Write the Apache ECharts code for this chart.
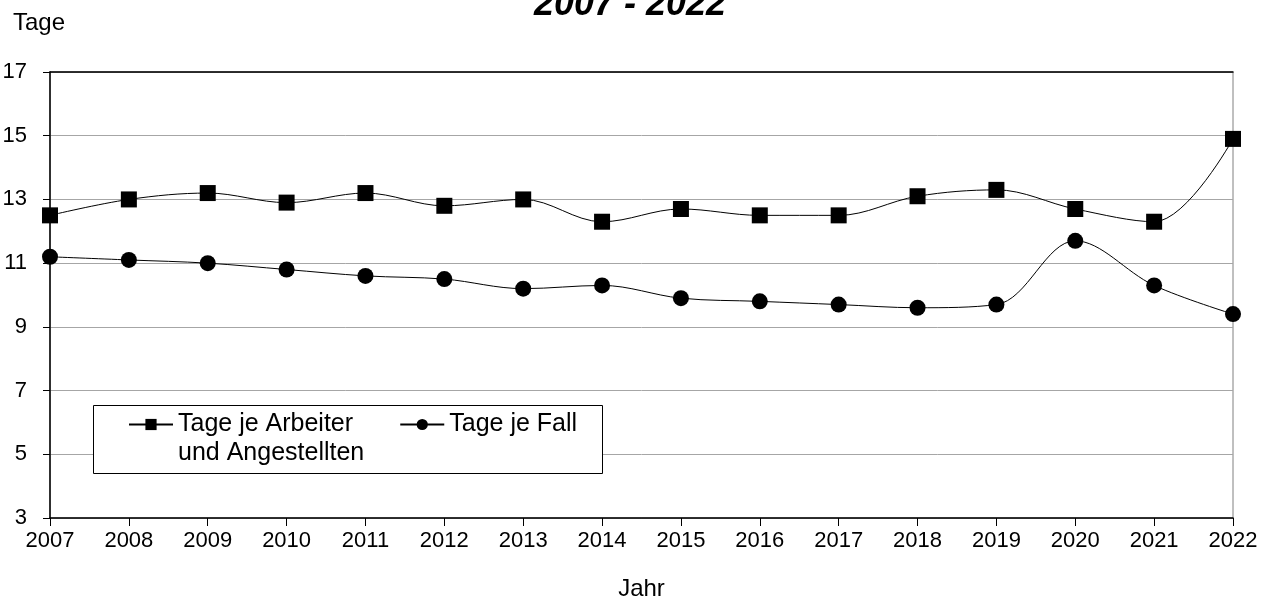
<!DOCTYPE html>
<html><head><meta charset="utf-8">
<script src="https://cdn.jsdelivr.net/npm/echarts@6/dist/echarts.min.js"></script>
<style>html,body{margin:0;padding:0;background:#fff}#c{width:1272px;height:599px}</style>
</head><body><div id="c"></div>
<script>
const years = ['2007','2008','2009','2010','2011','2012','2013','2014','2015','2016','2017','2018','2019','2020','2021','2022'];
const tageJeArbeiter = [12.5,13.0,13.2,12.9,13.2,12.8,13.0,12.3,12.7,12.5,12.5,13.1,13.3,12.7,12.3,14.9];
const tageJeFall = [11.2,11.1,11.0,10.8,10.6,10.5,10.2,10.3,9.9,9.8,9.7,9.6,9.7,11.7,10.3,9.4];
const seriesNames = ['Tage je Arbeiter\nund Angestellten','Tage je Fall'];
const titleText = '2007 - 2022';
const yTitle = 'Tage';
const xTitle = 'Jahr';

const FONT = "'Liberation Sans', Arial, sans-serif";
const chart = echarts.init(document.getElementById('c'));
chart.setOption({
  animation: false,
  backgroundColor: '#fff',
  grid: {left: 50, right: 39, top: 72, bottom: 81, show: true, borderColor: '#808080', borderWidth: 1,
         containLabel: false, outerBoundsMode: 'none'},
  graphic: [
    {type: 'text', x: 630, y: -13, style: {text: titleText, font: "italic bold 36px " + FONT, fill: '#000', textAlign: 'center', textVerticalAlign: 'top'}},
    {type: 'text', x: 13, y: 11, style: {text: yTitle, font: "24px " + FONT, fill: '#000', textVerticalAlign: 'top'}},
    {type: 'rect', shape: {x: 93.5, y: 405.5, width: 509, height: 68}, style: {fill: '#fff', stroke: '#000', lineWidth: 1}, z: 50}
  ],
  legend: {
    left: 123, top: 376, z: 60, padding: 5,
    itemWidth: 44, itemHeight: 14, itemGap: 35,
    formatter: function (n) { return n === seriesNames[0] ? '\n' + n : n; },
    textStyle: {fontFamily: FONT, fontSize: 25, color: '#000', lineHeight: 29},
    data: seriesNames
  },
  xAxis: [{
    type: 'category', data: years, boundaryGap: false,
    name: xTitle, nameLocation: 'middle', nameGap: 59,
    nameTextStyle: {fontFamily: FONT, fontSize: 24, color: '#000'},
    axisLine: {lineStyle: {color: '#000', width: 1.5}},
    axisTick: {show: true, length: 8, lineStyle: {color: '#000'}, alignWithLabel: true},
    axisLabel: {fontFamily: FONT, fontSize: 22, color: '#000', margin: 12, interval: 0},
    splitLine: {show: false}
  }, {
    type: 'category', data: years, boundaryGap: false, position: 'top',
    axisLine: {lineStyle: {color: '#000', width: 1.5}},
    axisTick: {show: false}, axisLabel: {show: false}, splitLine: {show: false}
  }],
  yAxis: {
    type: 'value', min: 3, max: 17, interval: 2,
    axisLine: {show: true, lineStyle: {color: '#000', width: 1.5}},
    axisTick: {show: true, length: 7, lineStyle: {color: '#000'}},
    axisLabel: {fontFamily: FONT, fontSize: 22, color: '#000', margin: 23},
    splitLine: {show: true, lineStyle: {color: '#a6a6a6', width: 1}}
  },
  series: [
    {name: seriesNames[0], type: 'line', data: tageJeArbeiter, smooth: 0.35,
     symbol: 'rect', symbolSize: 16, itemStyle: {color: '#000'}, lineStyle: {color: '#000', width: 1}, z: 3},
    {name: seriesNames[1], type: 'line', data: tageJeFall, smooth: 0.35,
     symbol: 'circle', symbolSize: 16, itemStyle: {color: '#000'}, lineStyle: {color: '#000', width: 1}, z: 3}
  ]
});
</script></body></html>
